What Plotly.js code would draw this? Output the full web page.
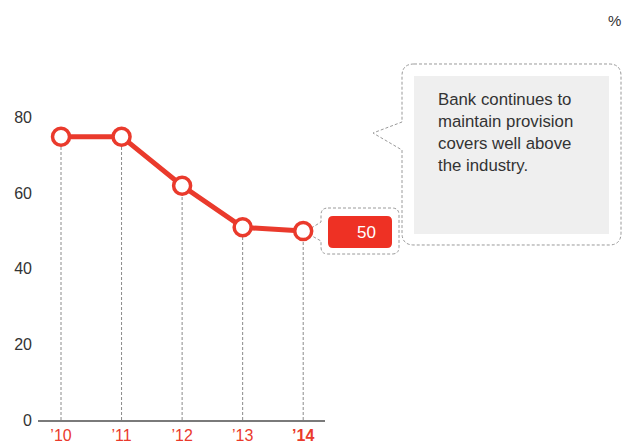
<!DOCTYPE html>
<html><head><meta charset="utf-8">
<script src="https://cdn.plot.ly/plotly-3.0.1.min.js"></script>
<style>html,body{margin:0;padding:0;background:#fff}#c{width:634px;height:445px}</style>
</head><body><div id="c"></div>
<script>
const years = ['\u201910', '\u201911', '\u201912', '\u201913', '\u201914'];
const values = [75, 75, 62, 51, 50];
const unitLabel = '%';
const noteText = 'Bank continues to<br>maintain provision<br>covers well above<br>the industry.';

const W = 634, H = 445;
const RED = '#ea3a2c';
const FONT = 'Liberation Sans, Arial, sans-serif';
const px = x => x / W;
const py = y => 1 - y / H;
const P = (x, y) => px(x).toFixed(5) + ',' + py(y).toFixed(5);

function bubble(x0, y0, x1, y1, r, pa, pb, tx, ty) {
  return 'M' + P(x0 + r, y0) + ' L' + P(x1 - r, y0) + ' Q' + P(x1, y0) + ' ' + P(x1, y0 + r) +
    ' L' + P(x1, y1 - r) + ' Q' + P(x1, y1) + ' ' + P(x1 - r, y1) +
    ' L' + P(x0 + r, y1) + ' Q' + P(x0, y1) + ' ' + P(x0, y1 - r) +
    ' L' + P(x0, pb) + ' L' + P(tx, ty) + ' L' + P(x0, pa) +
    ' L' + P(x0, y0 + r) + ' Q' + P(x0, y0) + ' ' + P(x0 + r, y0) + ' Z';
}
function rrect(x0, y0, x1, y1, r) {
  return 'M' + P(x0 + r, y0) + ' L' + P(x1 - r, y0) + ' Q' + P(x1, y0) + ' ' + P(x1, y0 + r) +
    ' L' + P(x1, y1 - r) + ' Q' + P(x1, y1) + ' ' + P(x1 - r, y1) +
    ' L' + P(x0 + r, y1) + ' Q' + P(x0, y1) + ' ' + P(x0, y1 - r) +
    ' L' + P(x0, y0 + r) + ' Q' + P(x0, y0) + ' ' + P(x0 + r, y0) + ' Z';
}

const idx = years.map((_, i) => i);
const traces = [];
idx.forEach(i => {
  traces.push({
    x: [i, i], y: [0, values[i]], mode: 'lines', type: 'scatter',
    line: {color: '#8a8a8a', width: 1, dash: '3px,2px'},
    hoverinfo: 'skip', showlegend: false
  });
});
traces.push({
  x: idx, y: values, mode: 'lines+markers', type: 'scatter',
  line: {color: RED, width: 5},
  marker: {size: 17, color: '#ffffff', line: {color: RED, width: 3.5}},
  showlegend: false
});

const tickText = years.map((y, i) => i === years.length - 1 ? '<b>' + y + '</b>' : y);

const shapes = [
  {type: 'path', xref: 'paper', yref: 'paper', layer: 'below',
   path: bubble(402, 64, 621, 245, 12, 122, 150, 373, 133),
   line: {color: '#9a9a9a', width: 1, dash: '3px,2px'}, fillcolor: 'rgba(0,0,0,0)'},
  {type: 'rect', xref: 'paper', yref: 'paper', layer: 'below',
   x0: px(414), x1: px(609), y0: py(76), y1: py(234),
   line: {width: 0}, fillcolor: '#efefef'},
  {type: 'path', xref: 'paper', yref: 'paper', layer: 'below',
   path: bubble(321, 208, 399, 254, 7, 222, 241, 305, 232),
   line: {color: '#9a9a9a', width: 1, dash: '3px,2px'}, fillcolor: 'rgba(0,0,0,0)'},
  {type: 'path', xref: 'paper', yref: 'paper', layer: 'below',
   path: rrect(328, 216, 392, 248, 5),
   line: {width: 0}, fillcolor: '#ee3124'}
];

const annotations = [
  {xref: 'paper', yref: 'paper', x: px(367), y: py(232), text: String(values[values.length - 1]),
   showarrow: false, xanchor: 'center', yanchor: 'middle',
   font: {family: FONT, size: 17, color: '#ffffff'}},
  {xref: 'paper', yref: 'paper', x: px(436), y: py(88), text: noteText,
   showarrow: false, xanchor: 'left', yanchor: 'top', align: 'left',
   font: {family: FONT, size: 16.8, color: '#333333'}},
  {xref: 'paper', yref: 'paper', x: px(614), y: py(20), text: unitLabel,
   showarrow: false, xanchor: 'center', yanchor: 'middle',
   font: {family: FONT, size: 15, color: '#333333'}}
];

const layout = {
  width: W, height: H,
  margin: {l: 0, r: 0, t: 0, b: 0},
  paper_bgcolor: '#ffffff', plot_bgcolor: 'rgba(0,0,0,0)',
  font: {family: FONT, color: '#333333'},
  showlegend: false,
  xaxis: {
    domain: [38 / W, 325 / W], range: [-0.38, 4.36],
    tickvals: idx, ticktext: tickText, tickfont: {family: FONT, size: 16, color: RED},
    showgrid: false, zeroline: false, showline: true, linecolor: '#7a7a7a', linewidth: 1.5,
    ticks: '', ticklabelstandoff: 0, fixedrange: true
  },
  yaxis: {
    domain: [1 - 420 / H, 1 - 80 / H], range: [0, 90],
    tickvals: [0, 20, 40, 60, 80], tickfont: {family: FONT, size: 16, color: '#333333'},
    showgrid: false, zeroline: false, showline: false, ticks: '', ticklabelstandoff: 5,
    fixedrange: true
  },
  shapes: shapes, annotations: annotations
};

Plotly.newPlot('c', traces, layout, {displayModeBar: false, staticPlot: true});
</script></body></html>
